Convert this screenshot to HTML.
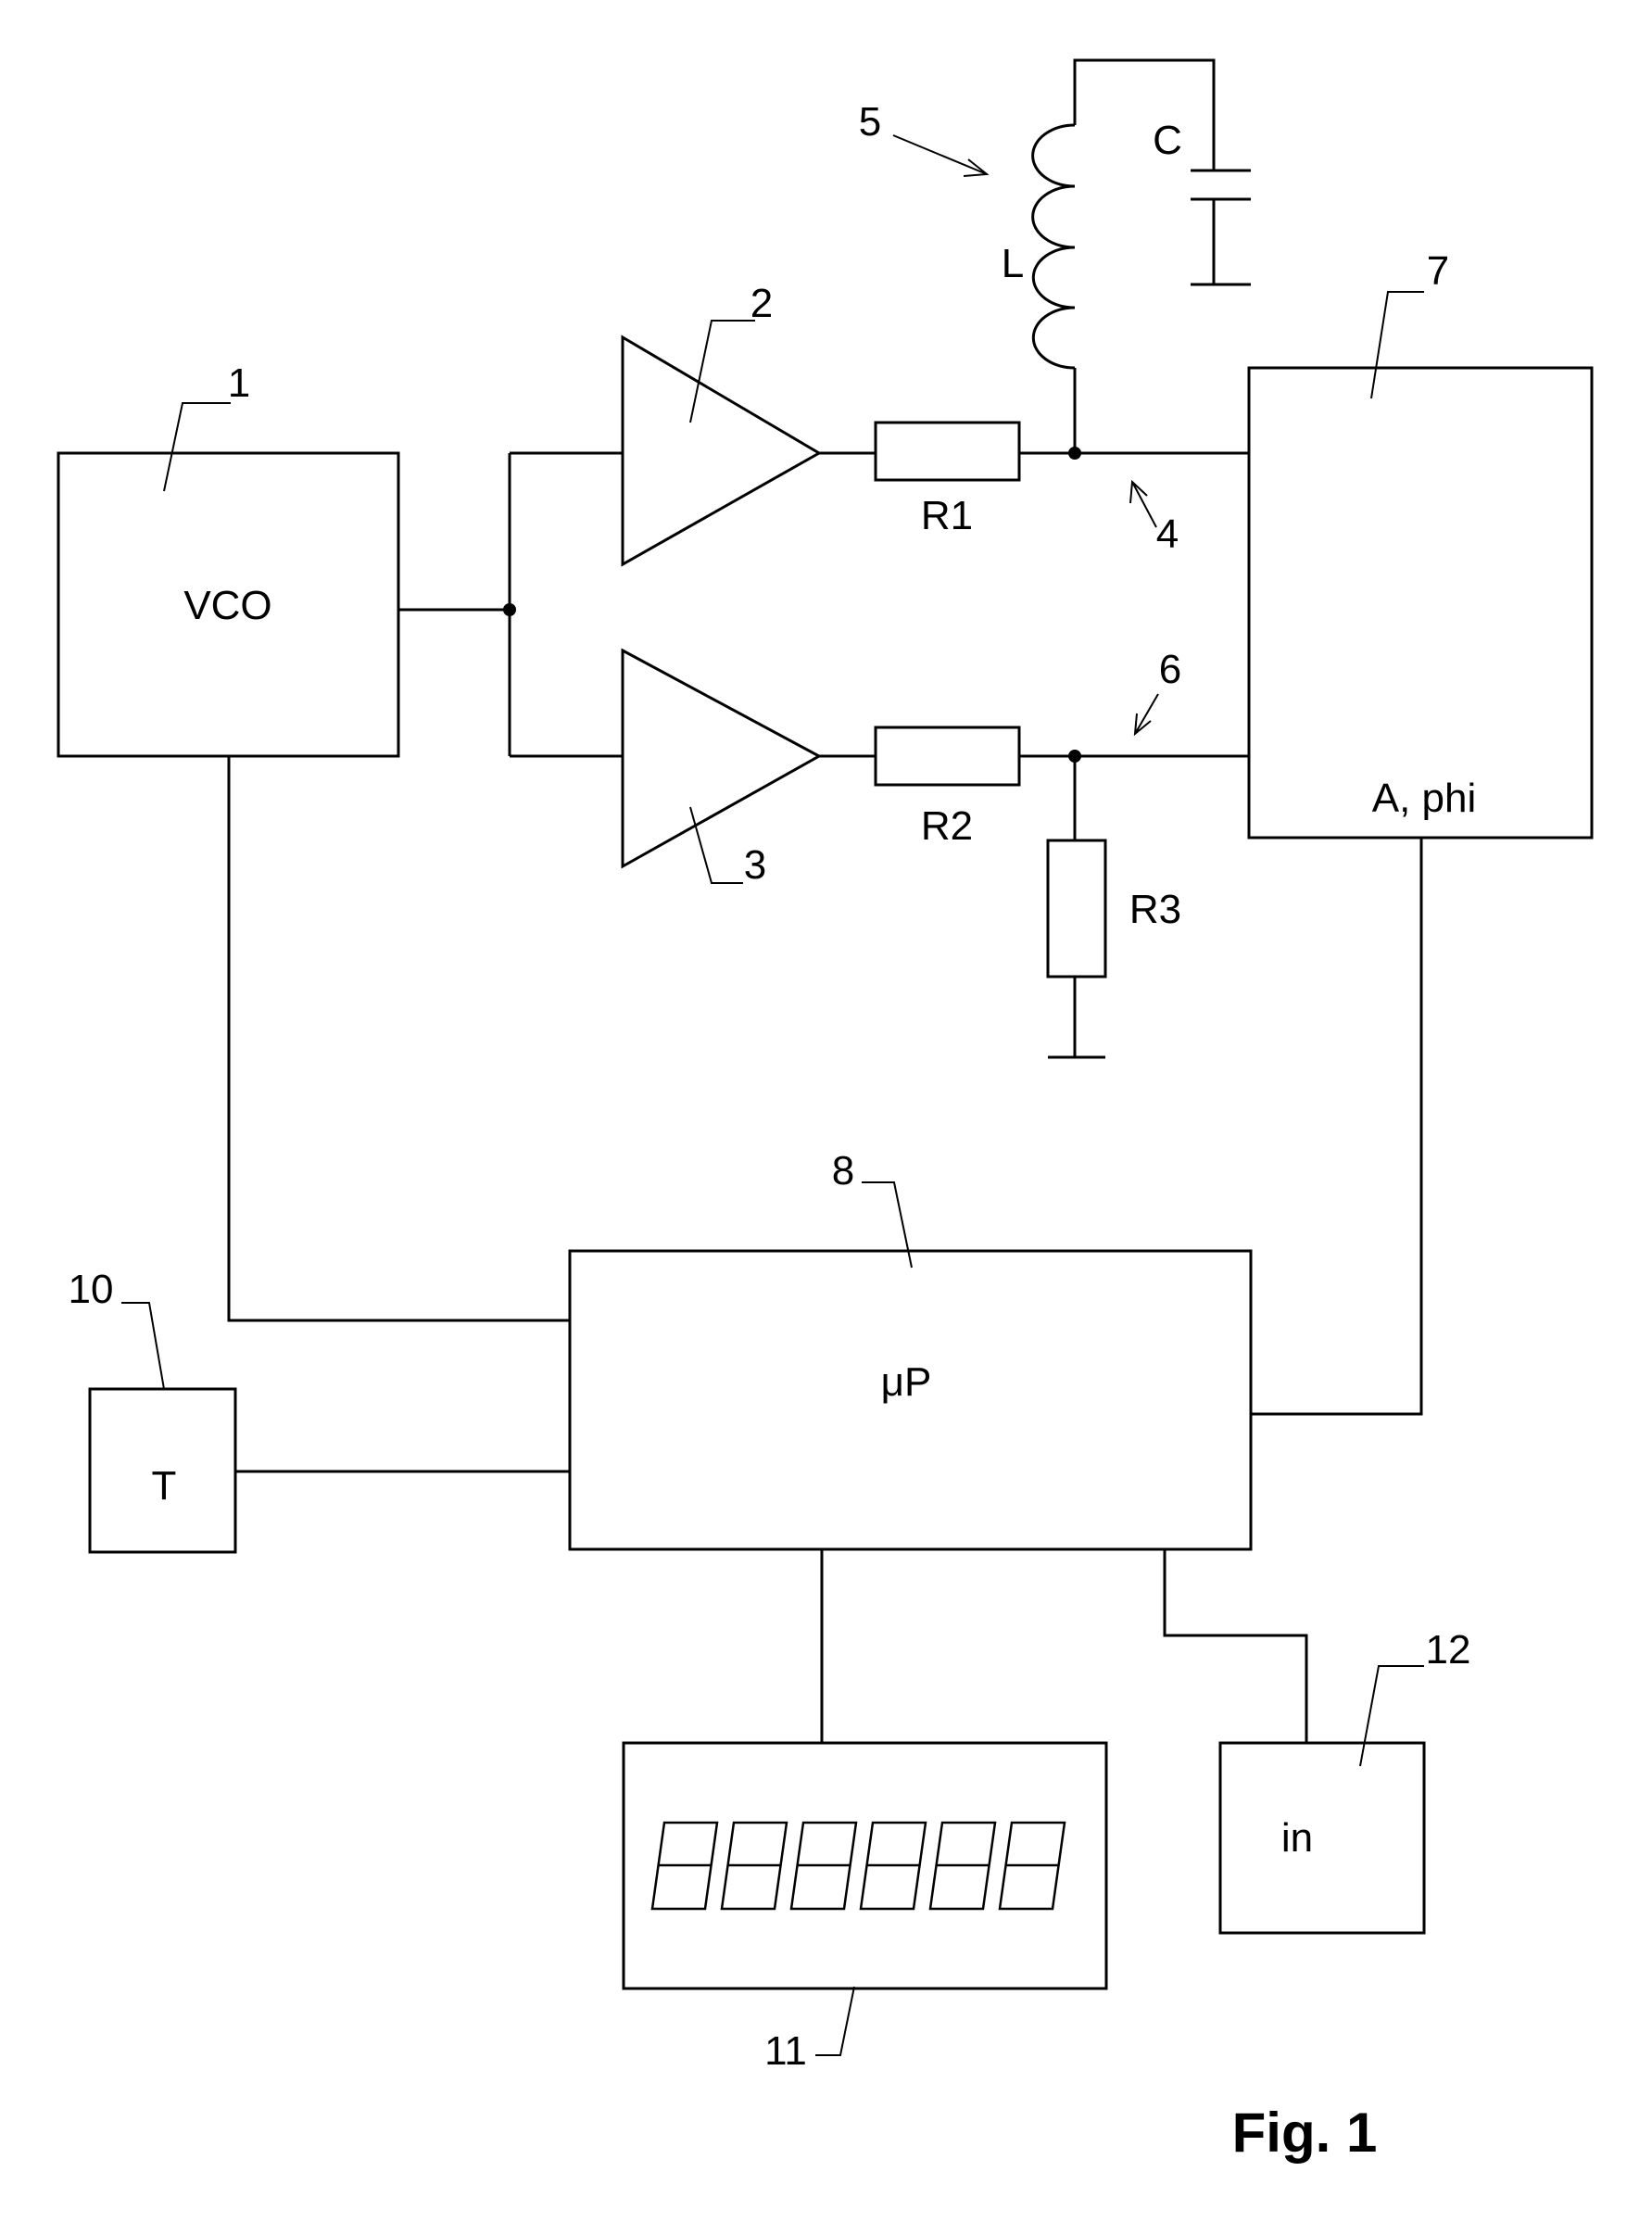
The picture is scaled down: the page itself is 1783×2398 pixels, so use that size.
<!DOCTYPE html>
<html><head><style>body{margin:0;background:#fff}svg{display:block}</style></head><body>
<svg width="1783" height="2398" viewBox="0 0 1783 2398" xmlns="http://www.w3.org/2000/svg">
<g fill="none" stroke="#000" stroke-width="3">
<rect x="63" y="489" width="367" height="327"/>
<path d="M430 658H550M550 489V816M550 489H672M550 816H672"/>
<path d="M672 364L884 489L672 609Z"/>
<path d="M672 702L884 816L672 935Z"/>
<path d="M884 489H945M1100 489H1348M884 816H945M1100 816H1348"/>
<rect x="945" y="456" width="155" height="62"/>
<rect x="945" y="785" width="155" height="62"/>
<rect x="1131" y="907" width="62" height="147"/>
<path d="M1160 816V907M1160 1054V1141M1131 1141H1193"/>
<path d="M1160 489V397M1160 135V65H1310V184M1285 184H1350M1285 215H1350M1310 215V307M1285 307H1350"/>
<path d="M1160 397a22 16 0 0 1 0 -65a22 16 0 0 1 0 -65a22 16 0 0 1 0 -66a22 16 0 0 1 0 -66"/>
<rect x="1348" y="397" width="370" height="507"/>
<path d="M1534 904V1526H1350"/>
<path d="M247 816V1425H615"/>
<rect x="615" y="1350" width="735" height="322"/>
<rect x="97" y="1499" width="157" height="176"/>
<path d="M254 1588H615M887 1672V1881M1257 1672V1765H1410V1881"/>
<rect x="673" y="1881" width="521" height="265"/>
<rect x="1317" y="1881" width="220" height="205"/>
<g stroke-width="2.5">
<path d="M704 2060L717 1967H774L761 2060ZM710 2013H767"/>
<path d="M779 2060L792 1967H849L836 2060ZM785 2013H842"/>
<path d="M854 2060L867 1967H924L911 2060ZM860 2013H917"/>
<path d="M929 2060L942 1967H999L986 2060ZM935 2013H992"/>
<path d="M1004 2060L1017 1967H1074L1061 2060ZM1010 2013H1067"/>
<path d="M1079 2060L1092 1967H1149L1136 2060ZM1085 2013H1142"/>
</g>
<g stroke-width="2">
<path d="M177 530L197 435H249"/>
<path d="M745 456L768 346H815"/>
<path d="M745 871L768 953H802"/>
<path d="M1480 430L1498 315H1537"/>
<path d="M984 1368L965 1276H930"/>
<path d="M177 1499L161 1406H131"/>
<path d="M922 2144L907 2218H880"/>
<path d="M1468 1906L1488 1798H1537"/>
<path d="M964 146L1065 188M1045 172L1065 188L1040 190"/>
<path d="M1248 569L1222 520M1220 543L1222 520L1238 535"/>
<path d="M1250 749L1225 792M1227 770L1225 792L1242 778"/>
</g>
</g>
<g fill="#000">
<circle cx="550" cy="658" r="7"/>
<circle cx="1160" cy="489" r="7"/>
<circle cx="1160" cy="816" r="7"/>
</g>
<g font-family="Liberation Sans, sans-serif" font-size="44" text-anchor="middle" fill="#000">
<text x="246" y="668">VCO</text>
<text x="258" y="428">1</text>
<text x="822" y="342">2</text>
<text x="815" y="948">3</text>
<text x="1260" y="591">4</text>
<text x="939" y="146">5</text>
<text x="1263" y="737">6</text>
<text x="1552" y="307">7</text>
<text x="910" y="1278">8</text>
<text x="98" y="1406">10</text>
<text x="848" y="2228">11</text>
<text x="1563" y="1795">12</text>
<text x="1260" y="166">C</text>
<text x="1093" y="299">L</text>
<text x="1022" y="571">R1</text>
<text x="1022" y="906">R2</text>
<text x="1247" y="996">R3</text>
<text x="1537" y="876">A, phi</text>
<text x="978" y="1506">μP</text>
<text x="177" y="1618">T</text>
<text x="1400" y="1998">in</text>
<text x="1408" y="2322" font-weight="bold" font-size="60">Fig. 1</text>
</g>
</svg>
</body></html>
